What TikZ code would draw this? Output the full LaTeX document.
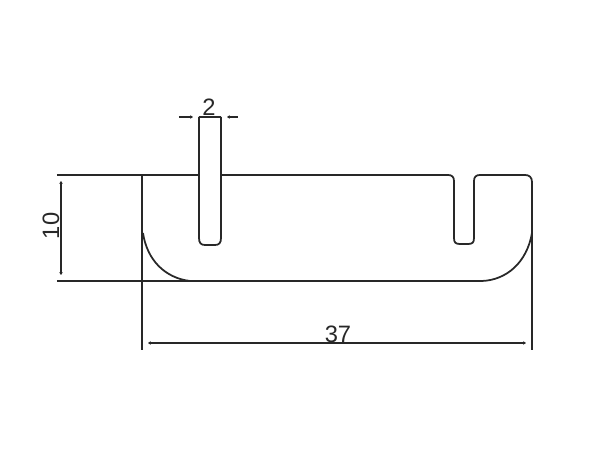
\documentclass[tikz,border=0pt]{standalone}
\usepackage{fontspec}
\setmainfont{Liberation Sans}
\usetikzlibrary{arrows.meta}
\definecolor{inkgray}{RGB}{40,40,40}
\tikzset{
  partline/.style={draw=inkgray, line width=1pt},
  dimline/.style={draw=inkgray, line width=1pt},
  dimtip/.style={{Stealth[length=1.6pt,width=2pt]}-{Stealth[length=1.6pt,width=2pt]}},
  dimlabel/.style={inner sep=0pt, text=inkgray, font=\fontsize{13.5}{14}\selectfont}
}
\begin{document}
\begin{tikzpicture}[x=0.02cm, y=-0.02cm, >=stealth]
  \useasboundingbox (0,0) rectangle (600,475);

  % Part outline
  \draw[partline] (199,117) -- (199,238) .. controls (199,243) and (201,245) .. (205,245)
    -- (215,245) .. controls (219,245) and (221,243) .. (221,238) -- (221,117);
  \draw[partline] (221,175) -- (448,175)
    .. controls (452,175) and (454,177) .. (454,181) -- (454,238)
    .. controls (454,243) and (456,244) .. (460,244) -- (468,244)
    .. controls (472,244) and (474,243) .. (474,238) -- (474,181)
    .. controls (474,177) and (476,175) .. (480,175) -- (525,175)
    .. controls (529,175) and (532,177) .. (532,182) -- (532,233)
    .. controls (527,262) and (507,280) .. (482,281) -- (190,281)
    .. controls (165,278) and (147,260) .. (143,233);

  % Coordinates
  \coordinate (topleft) at (57,175);
  \coordinate (topend) at (199,175);
  \coordinate (botleft) at (57,281);
  \coordinate (botend) at (190,281);
  \coordinate (leftup) at (142,175);
  \coordinate (leftdown) at (142,350);
  \coordinate (rightdown) at (532,350);
  \coordinate (rightup) at (532,182);
  \coordinate (hA) at (61,181);
  \coordinate (hB) at (61,275);
  \coordinate (wA) at (148,343);
  \coordinate (wB) at (526,343);
  \coordinate (gapA) at (199,117);
  \coordinate (gapB) at (221,117);
  \coordinate (gapL) at (179,117);
  \coordinate (gapR) at (238,117);
  \coordinate (gapLend) at (193,117);
  \coordinate (gapRend) at (227,117);

  % Extension lines
  \draw[dimline] (topleft) -- (topend);
  \draw[dimline] (botleft) -- (botend);
  \draw[dimline] (leftup) -- (leftdown);
  \draw[dimline] (rightup) -- (rightdown);

  % Dimensions
  \draw[dimline, dimtip] (hA) -- (hB);
  \draw[dimline, dimtip] (wA) -- (wB);
  \draw[dimline] (gapA) -- (gapB);
  \draw[dimline, -{Stealth[length=1.6pt,width=2pt]}] (gapL) -- (gapLend);
  \draw[dimline, -{Stealth[length=1.6pt,width=2pt]}] (gapR) -- (gapRend);

  % Labels
  \node[dimlabel, rotate=90] (hlabel) at (51,226) {10};
  \node[dimlabel] (wlabel) at (338,334) {37};
  \node[dimlabel] (gaplabel) at (209,107) {2};
\end{tikzpicture}
\end{document}
